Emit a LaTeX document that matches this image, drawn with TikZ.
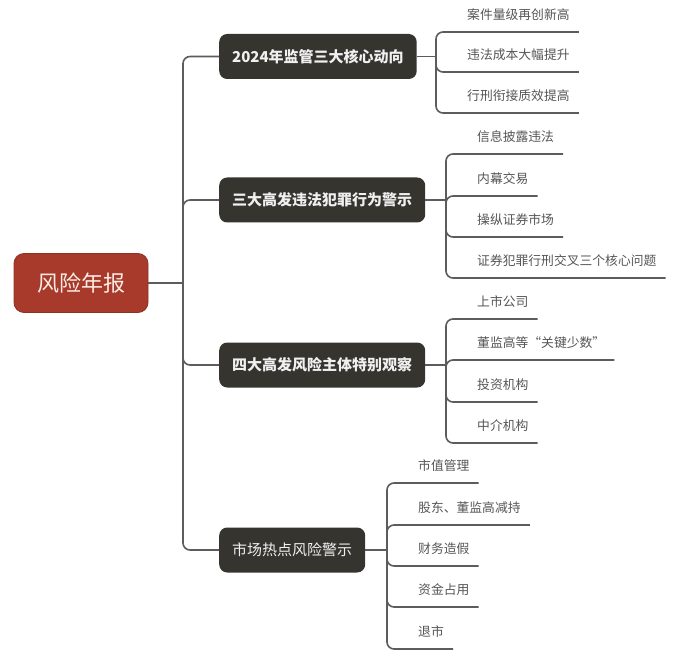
\documentclass[tikz,border=0pt]{standalone}
\usepackage{fontspec}
\newfontfamily\cjk{Noto Sans CJK SC}
\definecolor{rootred}{HTML}{A83A2B}
\definecolor{topicdark}{HTML}{36342F}
\definecolor{linegray}{HTML}{5C5C5C}
\definecolor{leafgray}{HTML}{555555}
\definecolor{roottext}{HTML}{FBEDE6}

\begin{document}
\begin{tikzpicture}[x=1pt,y=-1pt]
  \tikzstyle{root}=[rectangle,rounded corners=10pt,fill=rootred,draw=rootred!85!black,line width=0.8pt,
                    text=roottext,font=\cjk\fontsize{22}{22}\selectfont,minimum width=134pt,minimum height=59pt]
  \tikzstyle{topic}=[rectangle,rounded corners=8pt,fill=topicdark,text=white!94!black,anchor=west,
                     font=\cjk\fontsize{15}{15}\selectfont,inner xsep=13pt,minimum height=45pt]
  \tikzstyle{leaf}=[anchor=south west,inner xsep=9pt,inner ysep=0pt,minimum height=34pt,
                    text=leafgray,font=\cjk\fontsize{12.8}{12.8}\selectfont]
  \tikzstyle{link}=[draw=linegray,line width=1.6pt,rounded corners=7pt]

  \useasboundingbox (0,0) rectangle (682,652);

  \node[root] (R) at (81,283) {风险年报};
  \coordinate (hub) at (183,283);

  \node[topic,font=\cjk\bfseries\fontsize{15}{15}\selectfont] (T1) at (219,56.5) {2024年监管三大核心动向};
  \node[topic,font=\cjk\bfseries\fontsize{15}{15}\selectfont] (T2) at (219,200) {三大高发违法犯罪行为警示};
  \node[topic,font=\cjk\bfseries\fontsize{15}{15}\selectfont] (T3) at (219,365) {四大高发风险主体特别观察};
  \node[topic] (T4) at (219,550) {市场热点风险警示};

  \coordinate (j1) at (436,56.5);
  \coordinate (j2) at (446,200);
  \coordinate (j3) at (446,365);
  \coordinate (j4) at (387,550);

  % leaves of the first topic
  \node[leaf] (L11) at (458,32)  {案件量级再创新高};
  \node[leaf] (L12) at (458,72)  {违法成本大幅提升};
  \node[leaf] (L13) at (458,113) {行刑衔接质效提高};
  % second topic
  \node[leaf] (L21) at (468,154) {信息披露违法};
  \node[leaf] (L22) at (468,196) {内幕交易};
  \node[leaf] (L23) at (468,237) {操纵证券市场};
  \node[leaf] (L24) at (468,278) {证券犯罪行刑交叉三个核心问题};
  % third topic
  \node[leaf] (L31) at (468,319) {上市公司};
  \node[leaf] (L32) at (468,360) {董监高等“关键少数”};
  \node[leaf] (L33) at (468,402) {投资机构};
  \node[leaf] (L34) at (468,443) {中介机构};
  % fourth topic
  \node[leaf] (L41) at (409,483) {市值管理};
  \node[leaf] (L42) at (409,525) {股东、董监高减持};
  \node[leaf] (L43) at (409,566) {财务造假};
  \node[leaf] (L44) at (409,607) {资金占用};
  \node[leaf] (L45) at (409,649) {退市};

  \draw[link] (R.east) -- (hub);
  \draw[link] (hub) |- (T1.west) (hub) |- (T2.west) (hub) |- (T3.west) (hub) |- (T4.west);

  \draw[link] (T1.east) -- (j1) (T2.east) -- (j2) (T3.east) -- (j3) (T4.east) -- (j4);

  \draw[link] (j1) |- (L11.south east) (j1) |- (L12.south east) (j1) |- (L13.south east);
  \draw[link] (j2) |- (L21.south east) (j2) |- (L22.south east) (j2) |- (L23.south east)
              (j2) |- (L24.south east);
  \draw[link] (j3) |- (L31.south east) (j3) |- (L32.south east) (j3) |- (L33.south east)
              (j3) |- (L34.south east);
  \draw[link] (j4) |- (L41.south east) (j4) |- (L42.south east) (j4) |- (L43.south east)
              (j4) |- (L44.south east) (j4) |- (L45.south east);
\end{tikzpicture}
\end{document}
